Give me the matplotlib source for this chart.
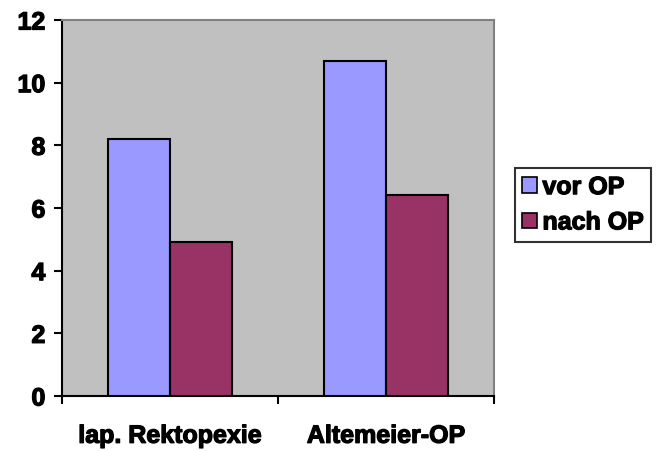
import numpy as np
import matplotlib.pyplot as plt
import matplotlib.patheffects as pe

categories = ['lap. Rektopexie', 'Altemeier-OP']
vor_op = [8.2, 10.7]
nach_op = [4.9, 6.4]
series_names = ['vor OP', 'nach OP']
y_ticks = [0, 2, 4, 6, 8, 10, 12]

plt.rcParams['font.family'] = ['Liberation Sans', 'DejaVu Sans']
plt.rcParams['font.weight'] = 'bold'

fig = plt.figure(figsize=(6.61, 4.52), dpi=100)
ax = fig.add_axes([0.0938, 0.1217, 0.6536, 0.8318])
ax.set_facecolor('#C0C0C0')

# excel style: gap width 150%, bar width = 1/3.5 of a category
x = np.arange(len(categories))
w = 1 / 3.5
ax.bar(x - w / 2, vor_op, w, color='#9999FF', edgecolor='black', linewidth=1.5,
       label=series_names[0], zorder=3)
ax.bar(x + w / 2, nach_op, w, color='#993366', edgecolor='black', linewidth=1.5,
       label=series_names[1], zorder=3)

ax.set_xlim(-0.5, len(categories) - 0.5)
ax.set_ylim(0, 12)
ax.set_yticks(y_ticks)
ax.set_xticks(np.arange(len(categories) + 1) - 0.5)
ax.set_xticklabels([])
ax.set_xticks(x, minor=True)
ax.set_xticklabels(categories, minor=True, fontsize=18, fontweight='bold')
ax.tick_params(axis='x', which='minor', length=0, pad=20)
ax.tick_params(axis='x', which='major', length=6, width=1.5, direction='out')
ax.tick_params(axis='y', length=6, width=1.5, direction='out', labelsize=18, pad=6)

for s in ['left', 'bottom']:
    ax.spines[s].set_color('black')
    ax.spines[s].set_linewidth(1.5)
for s in ['top', 'right']:
    ax.spines[s].set_color('#808080')
    ax.spines[s].set_linewidth(1.5)

leg = fig.legend(loc='upper left', bbox_to_anchor=(0.779, 0.627), frameon=True,
                 fancybox=False, edgecolor='black', fontsize=18,
                 handlelength=0.6, handleheight=0.6, handletextpad=0.2,
                 borderpad=0.3, labelspacing=0.45, borderaxespad=0)
leg.get_frame().set_linewidth(1.5)
for p in leg.get_patches():
    p.set_linewidth(1.2)

# heavier text like the original rendering
heavy = [pe.withStroke(linewidth=0.9, foreground='black')]
for t in ax.get_xticklabels(minor=True) + ax.get_yticklabels() + leg.get_texts():
    t.set_path_effects(heavy)

fig.savefig('out.png', dpi=100)
